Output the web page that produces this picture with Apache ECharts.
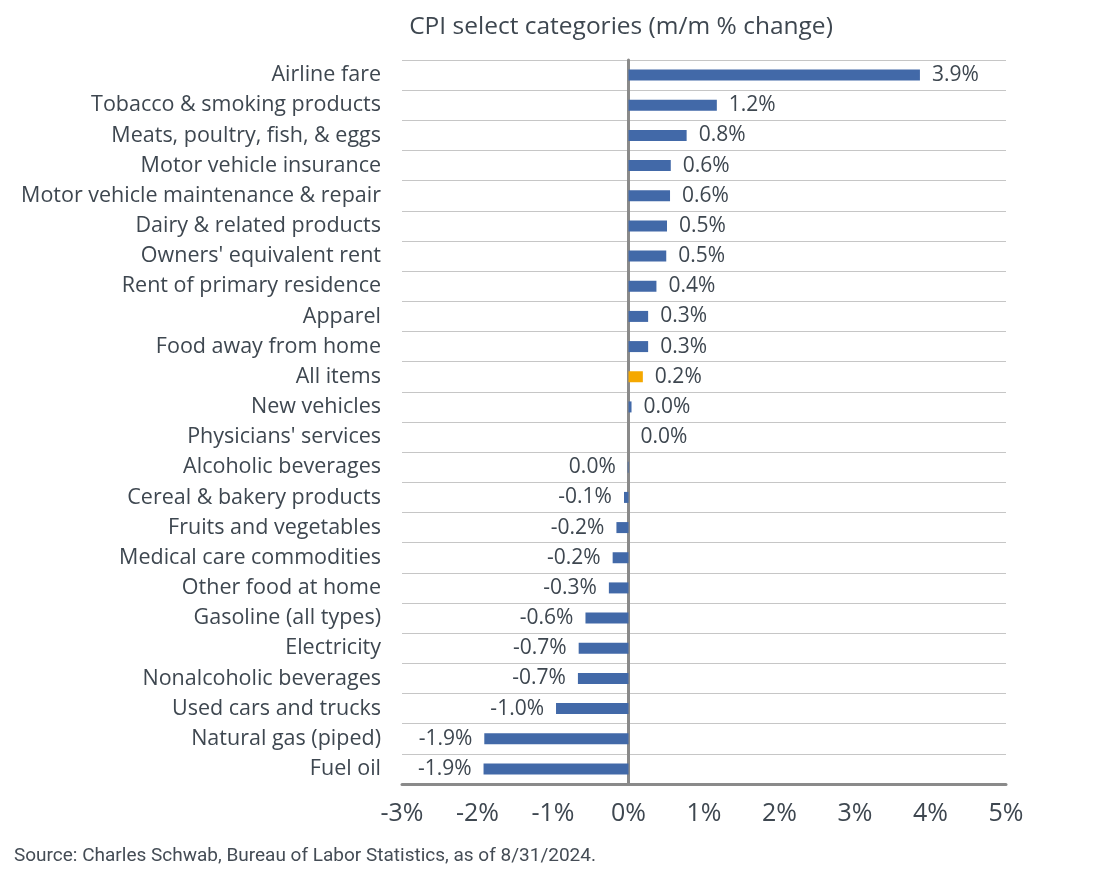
<!DOCTYPE html>
<html>
<head>
<meta charset="utf-8">
<script src="https://cdn.jsdelivr.net/npm/echarts@6/dist/echarts.min.js"></script>
<style>
html,body{margin:0;padding:0;background:#fff;}
#c{width:1108px;height:896px;}
</style>
</head>
<body>
<div id="c"></div>
<script>
const categories = ["Airline fare","Tobacco & smoking products","Meats, poultry, fish, & eggs","Motor vehicle insurance","Motor vehicle maintenance & repair","Dairy & related products","Owners' equivalent rent","Rent of primary residence","Apparel","Food away from home","All items","New vehicles","Physicians' services","Alcoholic beverages","Cereal & bakery products","Fruits and vegetables","Medical care commodities","Other food at home","Gasoline (all types)","Electricity","Nonalcoholic beverages","Used cars and trucks","Natural gas (piped)","Fuel oil"];
const values = [3.86,1.17,0.77,0.56,0.55,0.51,0.50,0.37,0.26,0.26,0.19,0.04,0.0,-0.01,-0.06,-0.16,-0.21,-0.26,-0.57,-0.66,-0.67,-0.96,-1.91,-1.92];
const highlight = "All items";
const xTicks = [-3,-2,-1,0,1,2,3,4,5];

const textColor = '#3e4750';
const fontFam = '"Open Sans", sans-serif';
function fmt(v){ let s=(Math.round(v*10)/10).toFixed(1); if(s==='-0.0') s='0.0'; return s+'%'; }
const chart = echarts.init(document.getElementById('c'));
chart.setOption({
  backgroundColor:'#fff',
  animation:false,
  title:{text:'CPI select categories (m/m % change)', left:616, top:10, textAlign:'center',
    textStyle:{fontFamily:fontFam,fontSize:24.5,fontWeight:'normal',color:textColor}},
  graphic:[{type:'text', left:14, top:847, style:{text:'Source: Charles Schwab, Bureau of Labor Statistics, as of 8/31/2024.', font:'19px Roboto, sans-serif', fill:'#444c55'}}],
  grid:{left:402,right:102,top:60,bottom:112,containLabel:false},
  xAxis:{type:'value',min:xTicks[0],max:xTicks[xTicks.length-1],interval:1,
    axisLine:{show:true,lineStyle:{color:'#8a8a8a',width:3}},
    axisTick:{show:false},splitLine:{show:false},
    axisLabel:{formatter:'{value}%',fontFamily:fontFam,fontSize:25,color:textColor,margin:17}},
  yAxis:{type:'category',data:categories,inverse:true,
    axisLine:{show:true,onZero:true,lineStyle:{color:'#8a8a8a',width:3}},
    axisTick:{show:false},
    splitLine:{show:true,lineStyle:{color:'#c6c6c6',width:1}},
    axisLabel:{fontFamily:fontFam,fontSize:21.5,color:textColor,margin:21}},
  series:[{type:'bar',barWidth:11,
    data:values.map((v,i)=>({value:v,
      itemStyle:{color:categories[i]===highlight?'#f5a800':'#4269a8'},
      label:{position:v<0?'left':'right'}})),
    label:{show:true,distance:12,fontFamily:fontFam,fontSize:21,color:textColor,
      formatter:p=>fmt(p.value)}
  }]
});
</script>
</body>
</html>
